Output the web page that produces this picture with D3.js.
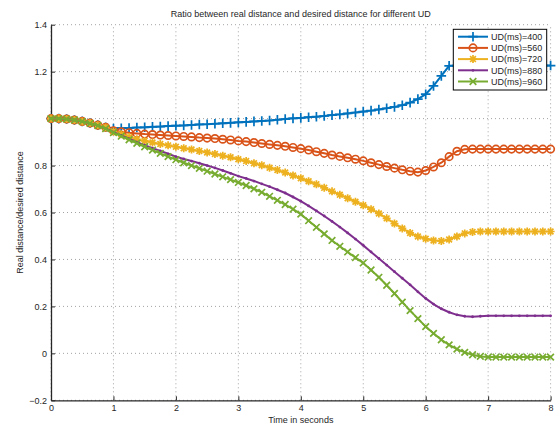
<!DOCTYPE html>
<html>
<head>
<meta charset="utf-8">
<script src="https://cdn.jsdelivr.net/npm/d3@7"></script>
<style>
  body { margin: 0; background: #fff; }
  svg text { font-family: "Liberation Sans", Arial, sans-serif; fill: #262626; }
</style>
</head>
<body>
<svg id="chart" width="557" height="425"></svg>
<script>
// sample times (s)
const time = [0,0.125,0.25,0.375,0.5,0.625,0.75,0.875,1,1.125,1.25,1.375,1.5,1.625,1.75,1.875,
  2,2.125,2.25,2.375,2.5,2.625,2.75,2.875,3,3.125,3.25,3.375,3.5,3.625,3.75,3.875,
  4,4.125,4.25,4.375,4.5,4.625,4.75,4.875,5,5.125,5.25,5.375,5.5,5.625,5.75,5.875,
  6,6.125,6.25,6.375,6.5,6.625,6.75,6.875,7,7.125,7.25,7.375,7.5,7.625,7.75,7.875,8];

const ud400 = [1.000,1.000,0.998,0.994,0.988,0.981,0.972,0.963,
  0.958,0.959,0.960,0.962,0.963,0.965,0.966,0.968,
  0.970,0.971,0.973,0.975,0.976,0.978,0.980,0.982,
  0.984,0.986,0.988,0.990,0.992,0.995,0.998,1.001,
  1.003,1.006,1.008,1.011,1.015,1.018,1.022,1.026,
  1.030,1.034,1.039,1.044,1.050,1.057,1.068,1.083,
  1.104,1.139,1.182,1.225,1.226,1.226,1.226,1.226,
  1.226,1.226,1.226,1.226,1.226,1.226,1.226,1.226,
  1.226];

const ud560 = [1.000,1.000,0.998,0.994,0.988,0.981,0.972,0.963,
  0.948,0.944,0.940,0.937,0.934,0.932,0.930,0.928,
  0.926,0.924,0.922,0.919,0.917,0.915,0.912,0.909,
  0.905,0.902,0.898,0.894,0.890,0.886,0.882,0.877,
  0.872,0.866,0.859,0.852,0.845,0.839,0.833,0.827,
  0.820,0.812,0.804,0.796,0.789,0.782,0.776,0.772,
  0.779,0.794,0.812,0.838,0.861,0.869,0.870,0.870,
  0.870,0.870,0.870,0.870,0.870,0.870,0.870,0.870,
  0.870];

const ud720 = [1.000,1.000,0.998,0.994,0.988,0.981,0.972,0.962,
  0.945,0.933,0.922,0.912,0.905,0.898,0.892,0.886,
  0.880,0.874,0.868,0.862,0.856,0.849,0.842,0.835,
  0.827,0.819,0.810,0.801,0.791,0.781,0.770,0.758,
  0.746,0.733,0.720,0.705,0.690,0.676,0.661,0.646,
  0.631,0.614,0.596,0.575,0.553,0.532,0.513,0.498,
  0.488,0.481,0.479,0.485,0.498,0.511,0.517,0.519,
  0.519,0.519,0.519,0.519,0.519,0.519,0.519,0.519,
  0.519];

const ud880 = [1.000,1.000,0.998,0.994,0.988,0.980,0.970,0.958,
  0.942,0.928,0.914,0.900,0.887,0.874,0.862,0.850,
  0.838,0.828,0.819,0.810,0.800,0.790,0.779,0.767,
  0.755,0.745,0.734,0.722,0.710,0.697,0.683,0.666,
  0.648,0.628,0.607,0.585,0.562,0.538,0.513,0.487,
  0.460,0.432,0.404,0.376,0.348,0.320,0.292,0.262,
  0.234,0.210,0.190,0.175,0.164,0.158,0.156,0.158,
  0.160,0.160,0.160,0.160,0.160,0.160,0.160,0.160,
  0.160];

const ud960 = [1.000,1.000,0.998,0.994,0.988,0.980,0.970,0.957,
  0.940,0.925,0.910,0.895,0.880,0.866,0.852,0.838,
  0.825,0.812,0.800,0.788,0.776,0.764,0.752,0.740,
  0.728,0.715,0.701,0.686,0.669,0.652,0.634,0.614,
  0.593,0.565,0.537,0.509,0.481,0.456,0.432,0.408,
  0.385,0.355,0.324,0.290,0.255,0.218,0.182,0.148,
  0.114,0.085,0.058,0.036,0.018,0.004,-0.006,-0.013,
  -0.016,-0.016,-0.016,-0.016,-0.016,-0.016,-0.016,-0.016,
  -0.016];

const seriesNames = ["UD(ms)=400", "UD(ms)=560", "UD(ms)=720", "UD(ms)=880", "UD(ms)=960"];
const seriesColors = ["#0072BD", "#D95319", "#EDB120", "#7E2F8E", "#77AC30"];
const seriesMarkers = ["plus", "circle", "star", "dot", "cross"];

const xTicks = [0, 1, 2, 3, 4, 5, 6, 7, 8];
const yTicks = [-0.2, 0, 0.2, 0.4, 0.6, 0.8, 1, 1.2, 1.4];
const yTickLabels = ["\u22120.2", "0", "0.2", "0.4", "0.6", "0.8", "", "1.2", "1.4"];

const series = [ud400, ud560, ud720, ud880, ud960].map((vals, i) => ({
  name: seriesNames[i],
  color: seriesColors[i],
  marker: seriesMarkers[i],
  values: time.map((t, j) => ({ t: t, v: vals[j] }))
}));

const svg = d3.select("#chart");
svg.append("rect").attr("width", 557).attr("height", 425).attr("fill", "#fff");

// scales
const x = d3.scaleLinear().domain([0, 8]).range([51, 550.6]);
const y = d3.scaleLinear().domain([-0.2, 1.4]).range([400.3, 24.7]);

// dotted grid
const grid = svg.append("g");
grid.selectAll("line.gx").data(xTicks).join("line")
  .attr("x1", d => x(d)).attr("x2", d => x(d))
  .attr("y1", y(-0.2)).attr("y2", y(1.4))
  .attr("stroke", "#8c8c8c").attr("stroke-width", 0.8).attr("stroke-dasharray", "1,3");
grid.selectAll("line.gy").data(yTicks).join("line")
  .attr("x1", x(0)).attr("x2", x(8))
  .attr("y1", d => y(d)).attr("y2", d => y(d))
  .attr("stroke", "#8c8c8c").attr("stroke-width", 0.8).attr("stroke-dasharray", "1,3");

// axes
const xAxis = svg.append("g")
  .attr("transform", `translate(0,${y(-0.2)})`)
  .call(d3.axisBottom(x).tickValues(xTicks).tickFormat(d3.format("d"))
    .tickSizeInner(-4).tickSizeOuter(0).tickPadding(4));
const yAxis = svg.append("g")
  .attr("transform", `translate(${x(0)},0)`)
  .call(d3.axisLeft(y).tickValues(yTicks).tickFormat((d, i) => yTickLabels[i])
    .tickSizeInner(-4).tickSizeOuter(0).tickPadding(4));
[xAxis, yAxis].forEach(a => {
  a.select(".domain").attr("stroke", "#262626").attr("stroke-width", 1.3);
  a.selectAll(".tick line").attr("stroke", "#262626");
  a.selectAll(".tick text").attr("font-size", 9).attr("fill", "#262626");
});

// titles
svg.append("text")
  .attr("x", x(4)).attr("y", 17)
  .attr("text-anchor", "middle").attr("font-size", 9)
  .text("Ratio between real distance and desired distance for different UD");
svg.append("text")
  .attr("x", x(4)).attr("y", 423)
  .attr("text-anchor", "middle").attr("font-size", 9)
  .text("Time in seconds");
svg.append("text")
  .attr("transform", `translate(23,${y(0.6)}) rotate(-90)`)
  .attr("text-anchor", "middle").attr("font-size", 9)
  .text("Real distance/desired distance");

// marker drawing
function marker(g, type, color, cx, cy, lw) {
  if (type === "plus") {
    g.append("path").attr("d", `M${cx - 4.8},${cy}H${cx + 4.8}M${cx},${cy - 4.8}V${cy + 4.8}`)
      .attr("stroke", color).attr("stroke-width", lw).attr("fill", "none");
  } else if (type === "circle") {
    g.append("circle").attr("cx", cx).attr("cy", cy).attr("r", 3.7)
      .attr("stroke", color).attr("stroke-width", lw).attr("fill", "none");
  } else if (type === "star") {
    const r = 4, s = r * 0.72;
    g.append("path").attr("d", `M${cx - r},${cy}H${cx + r}M${cx},${cy - r}V${cy + r}M${cx - s},${cy - s}L${cx + s},${cy + s}M${cx - s},${cy + s}L${cx + s},${cy - s}`)
      .attr("stroke", color).attr("stroke-width", lw).attr("fill", "none");
  } else if (type === "cross") {
    const r = 3.3;
    g.append("path").attr("d", `M${cx - r},${cy - r}L${cx + r},${cy + r}M${cx - r},${cy + r}L${cx + r},${cy - r}`)
      .attr("stroke", color).attr("stroke-width", lw).attr("fill", "none");
  } else {
    g.append("circle").attr("cx", cx).attr("cy", cy).attr("r", 1.4).attr("fill", color);
  }
}

// lines
const line = d3.line().x(d => x(d.t)).y(d => y(d.v));
series.forEach(s => {
  const g = svg.append("g");
  g.append("path").attr("d", line(s.values))
    .attr("fill", "none").attr("stroke", s.color).attr("stroke-width", 2);
  s.values.forEach(d => marker(g, s.marker, s.color, x(d.t), y(d.v), 1.7));
});

// legend
const legend = svg.append("g");
legend.append("rect")
  .attr("x", 453.3).attr("y", 29.3).attr("width", 93.4).attr("height", 60.7)
  .attr("fill", "#fff").attr("stroke", "#000").attr("stroke-width", 1);
series.forEach((s, i) => {
  const ly = 36.7 + i * 11.2;
  const g = legend.append("g");
  g.append("line").attr("x1", 458).attr("x2", 488).attr("y1", ly).attr("y2", ly)
    .attr("stroke", s.color).attr("stroke-width", 2);
  marker(g, s.marker, s.color, 473, ly, 1.7);
  g.append("text").attr("x", 491).attr("y", ly + 3.3).attr("font-size", 9).text(s.name);
});
</script>
</body>
</html>
